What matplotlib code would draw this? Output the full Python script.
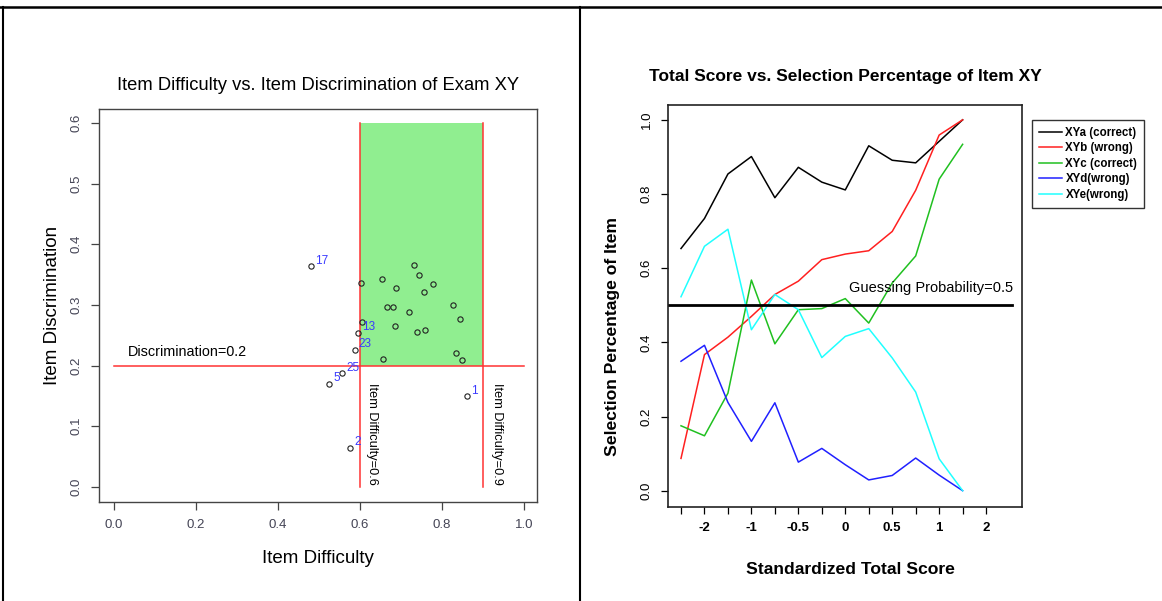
import matplotlib
matplotlib.use("Agg")
import matplotlib.pyplot as plt
from matplotlib.lines import Line2D
from matplotlib.patches import Rectangle
import numpy as np

plt.rcParams['font.family'] = ['Liberation Sans', 'DejaVu Sans']

# left chart: item difficulty / discrimination (25 items)
difficulty = [0.602, 0.653, 0.733, 0.744, 0.777, 0.689, 0.755, 0.667, 0.680,
              0.719, 0.827, 0.844, 0.605, 0.686, 0.738, 0.758, 0.835, 0.849,
              0.656, 0.480, 0.596, 0.587, 0.556, 0.524, 0.860, 0.576]
discrimination = [0.336, 0.343, 0.366, 0.349, 0.334, 0.328, 0.321, 0.297, 0.297,
                  0.288, 0.300, 0.276, 0.271, 0.265, 0.255, 0.258, 0.220, 0.209,
                  0.211, 0.364, 0.254, 0.226, 0.187, 0.170, 0.149, 0.064]
item_labels = ['', '', '', '', '', '', '', '', '', '', '', '', '', '', '', '', '',
               '', '', '17', '13', '23', '25', '5', '1', '2']

# right chart: selection percentage of each option by score group
score_ticks = list(range(1, 15))
score_labels = ['', '-2', '', '-1', '', '-0.5', '', '0', '', '0.5', '', '1', '', '2']
groups = list(range(1, 14))
xya = [0.653, 0.734, 0.854, 0.901, 0.790, 0.872, 0.832, 0.811, 0.930, 0.891, 0.884, 0.942, 1.0]
xyb = [0.087, 0.367, 0.414, 0.470, 0.529, 0.565, 0.623, 0.638, 0.647, 0.699, 0.810, 0.959, 1.0]
xyc = [0.175, 0.148, 0.263, 0.568, 0.396, 0.488, 0.491, 0.518, 0.452, 0.560, 0.633, 0.840, 0.934]
xyd = [0.349, 0.392, 0.238, 0.133, 0.237, 0.077, 0.114, 0.070, 0.029, 0.041, 0.088, 0.042, 0.0]
xye = [0.523, 0.659, 0.705, 0.434, 0.529, 0.488, 0.359, 0.416, 0.437, 0.358, 0.266, 0.086, 0.0]
series_names = ['XYa (correct)', 'XYb (wrong)', 'XYc (correct)', 'XYd(wrong)', 'XYe(wrong)']
series_colors = ['black', '#ff2020', '#20c020', '#2020ff', '#20ffff']

W, H = 1162, 601
fig = plt.figure(figsize=(W / 100, H / 100), dpi=100)

# ---------- left panel ----------
ax1 = fig.add_axes([99 / W, 1 - 502 / H, 438 / W, 393 / H])
ax1.add_patch(Rectangle((0.6, 0.2), 0.3, 0.4, facecolor='#90ee90', edgecolor='none', zorder=1))
ax1.plot([0.6, 0.6], [0, 0.6], color='#ff3333', lw=1.1, zorder=2)
ax1.plot([0.9, 0.9], [0, 0.6], color='#ff3333', lw=1.1, zorder=2)
ax1.plot([0, 1.0], [0.2, 0.2], color='#ff3333', lw=1.1, zorder=2)
ax1.plot(difficulty, discrimination, 'o', ms=3.8, mfc='none', mec='#222222', mew=0.8, zorder=3)
for x, y, lab in zip(difficulty, discrimination, item_labels):
    if lab:
        ax1.annotate(lab, (x, y), xytext=(3, 4), textcoords='offset points',
                     ha='left', va='center', fontsize=8.5, color='#3a3aff')
ax1.text(0.034, 0.222, 'Discrimination=0.2', fontsize=10.4, ha='left', va='center')
ax1.text(0.63, 0.172, 'Item Difficulty=0.6', fontsize=9.2, rotation=-90, ha='center', va='top')
ax1.text(0.934, 0.172, 'Item Difficulty=0.9', fontsize=9.2, rotation=-90, ha='center', va='top')
ax1.set_xlim(-0.037, 1.032)
ax1.set_ylim(-0.025, 0.623)
ax1.set_xticks([0.0, 0.2, 0.4, 0.6, 0.8, 1.0])
ax1.set_xticklabels(['0.0', '0.2', '0.4', '0.6', '0.8', '1.0'])
ax1.set_yticks([0.0, 0.1, 0.2, 0.3, 0.4, 0.5, 0.6])
ax1.set_yticklabels(['0.0', '0.1', '0.2', '0.3', '0.4', '0.5', '0.6'], rotation=90, va='center')
ax1.tick_params(length=6, width=0.9, color='#444444', labelsize=9.5, labelcolor='#444455', pad=6)
for s in ax1.spines.values():
    s.set_color('#444444')
    s.set_linewidth(1.0)
ax1.set_title('Item Difficulty vs. Item Discrimination of Exam XY', fontsize=13.2, pad=14)
ax1.set_xlabel('Item Difficulty', fontsize=13.5, labelpad=14)
ax1.set_ylabel('Item Discrimination', fontsize=13.5, labelpad=7)

# ---------- right panel ----------
ax2 = fig.add_axes([668 / W, 1 - 507 / H, 354 / W, 402 / H])
for vals, name, col in zip([xya, xyb, xyc, xyd, xye], series_names, series_colors):
    ax2.plot(groups, vals, color=col, lw=1.1, label=name)
ax2.plot([0.45, 15.1], [0.5, 0.5], color='black', lw=2.0)
ax2.text(15.15, 0.547, 'Guessing Probability=0.5', fontsize=10.5, ha='right', va='center')
ax2.set_xlim(0.446, 15.53)
ax2.set_ylim(-0.044, 1.04)
ax2.set_xticks(score_ticks)
ax2.set_xticklabels(score_labels, fontweight='bold')
ax2.set_yticks([0.0, 0.2, 0.4, 0.6, 0.8, 1.0])
ax2.set_yticklabels(['0.0', '0.2', '0.4', '0.6', '0.8', '1.0'], rotation=90, va='center')
ax2.tick_params(length=5, width=0.9, labelsize=9.5, pad=6)
for s in ax2.spines.values():
    s.set_color('#222222')
    s.set_linewidth(1.2)
ax2.set_title('Total Score vs. Selection Percentage of Item XY', fontsize=12.5, fontweight='bold', pad=17)
fig.text(850 / W, 1 - 570 / H, 'Standardized Total Score', fontsize=12.6, fontweight='bold',
         ha='center', va='center')
fig.text(613 / W, 1 - 337 / H, 'Selection Percentage of Item', fontsize=12.6, fontweight='bold',
         rotation=90, ha='center', va='center')
leg = ax2.legend(loc='upper left', bbox_to_anchor=(1032 / W, 1 - 120 / H),
                 bbox_transform=fig.transFigure, borderaxespad=0, fancybox=False,
                 prop={'weight': 'bold', 'size': 8.3}, handlelength=2.0, handletextpad=0.3,
                 labelspacing=0.3, borderpad=0.6, framealpha=1)
leg.get_frame().set_edgecolor('#333333')
leg.get_frame().set_linewidth(1.0)

# ---------- page border ----------
fig.add_artist(Line2D([0, 1], [1 - 7 / H, 1 - 7 / H], color='black', lw=1.8))
fig.add_artist(Line2D([3 / W, 3 / W], [0, 1 - 7 / H], color='black', lw=1.5))
fig.add_artist(Line2D([580 / W, 580 / W], [0, 1 - 7 / H], color='black', lw=1.5))

fig.savefig('out.png', dpi=100)
